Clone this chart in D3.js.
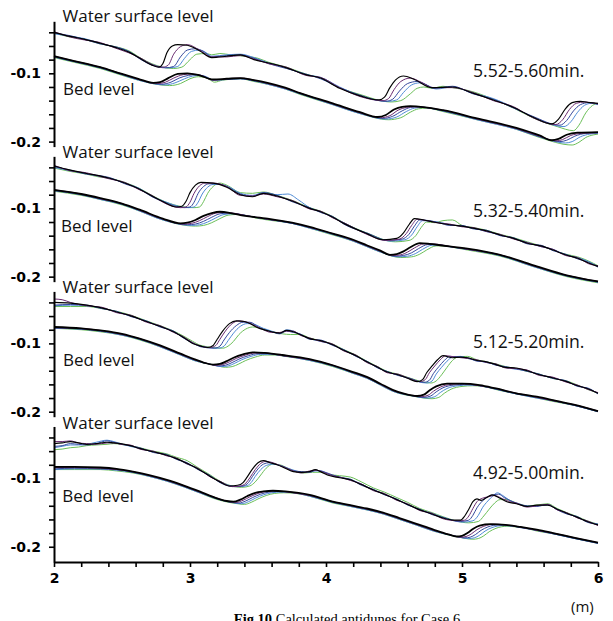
<!DOCTYPE html>
<html>
<head>
<meta charset="utf-8">
<script src="https://cdn.jsdelivr.net/npm/d3@7"></script>
<style>
  body { margin: 0; background: #fff; }
  svg { display: block; }
</style>
</head>
<body>
<svg id="chart" width="613" height="621"></svg>
<script>
// Series order in every group: black, purple, dark blue, light blue, green
const seriesColors = ["#000000", "#6a2b70", "#34479b", "#4f8bd6", "#6bbf58"];
const periodLabels = ["5.52-5.60min.", "5.32-5.40min.", "5.12-5.20min.", "4.92-5.00min."];
const xMajorTicks = [2, 3, 4, 5, 6];
const xMinorTicks = [2.2, 2.4, 2.6, 2.8, 3.2, 3.4, 3.6, 3.8, 4.2, 4.4, 4.6, 4.8, 5.2, 5.4, 5.6, 5.8];
const yTicks = [-0.04, -0.06, -0.08, -0.1, -0.12, -0.14, -0.16, -0.18, -0.2];
const yLabelled = ["-0.1", "-0.2"];

// ---- 5.52-5.60 min ----
const waterA = [
  [[2.00,-.040],[2.12,-.046],[2.22,-.050],[2.34,-.056],[2.45,-.062],[2.55,-.069],[2.64,-.079],[2.72,-.088],[2.77,-.091],[2.80,-.086],[2.83,-.070],[2.87,-.060],[2.91,-.058],[2.98,-.059],[3.07,-.067],[3.16,-.077],[3.27,-.075],[3.37,-.073],[3.47,-.080],[3.58,-.085],[3.71,-.092],[3.85,-.102],[3.96,-.107],[4.10,-.122],[4.25,-.133],[4.39,-.139],[4.43,-.135],[4.47,-.121],[4.51,-.110],[4.57,-.104],[4.65,-.109],[4.78,-.121],[4.93,-.120],[5.08,-.129],[5.23,-.139],[5.38,-.150],[5.52,-.164],[5.66,-.174],[5.71,-.167],[5.76,-.152],[5.81,-.143],[5.87,-.141],[5.94,-.143],[6.00,-.144]],
  [[2.00,-.039],[2.12,-.047],[2.22,-.051],[2.34,-.055],[2.45,-.063],[2.55,-.070],[2.64,-.078],[2.72,-.087],[2.80,-.091],[2.84,-.088],[2.88,-.072],[2.93,-.061],[2.98,-.058],[3.07,-.066],[3.16,-.076],[3.27,-.076],[3.37,-.074],[3.47,-.079],[3.58,-.086],[3.71,-.091],[3.85,-.103],[3.96,-.106],[4.10,-.121],[4.25,-.134],[4.42,-.140],[4.46,-.137],[4.50,-.124],[4.55,-.112],[4.62,-.107],[4.70,-.113],[4.79,-.121],[4.93,-.121],[5.08,-.128],[5.23,-.140],[5.38,-.149],[5.52,-.165],[5.69,-.175],[5.74,-.168],[5.79,-.153],[5.84,-.144],[5.90,-.142],[6.00,-.145]],
  [[2.00,-.041],[2.12,-.045],[2.22,-.050],[2.34,-.057],[2.45,-.061],[2.55,-.068],[2.64,-.080],[2.72,-.088],[2.82,-.092],[2.88,-.090],[2.93,-.076],[2.98,-.066],[3.04,-.064],[3.10,-.068],[3.16,-.076],[3.27,-.074],[3.37,-.073],[3.47,-.078],[3.58,-.086],[3.71,-.093],[3.85,-.101],[3.96,-.108],[4.10,-.121],[4.25,-.132],[4.44,-.141],[4.49,-.138],[4.54,-.126],[4.60,-.115],[4.67,-.112],[4.73,-.116],[4.79,-.122],[4.93,-.119],[5.08,-.130],[5.23,-.138],[5.38,-.151],[5.52,-.163],[5.72,-.176],[5.77,-.169],[5.82,-.155],[5.87,-.146],[5.93,-.143],[6.00,-.145]],
  [[2.00,-.042],[2.12,-.046],[2.22,-.049],[2.34,-.056],[2.45,-.062],[2.55,-.068],[2.64,-.079],[2.72,-.087],[2.85,-.092],[2.91,-.090],[2.96,-.078],[3.01,-.068],[3.07,-.066],[3.12,-.070],[3.16,-.075],[3.27,-.073],[3.37,-.072],[3.47,-.077],[3.58,-.085],[3.71,-.092],[3.85,-.102],[3.96,-.106],[4.10,-.120],[4.25,-.133],[4.46,-.141],[4.52,-.139],[4.57,-.128],[4.63,-.117],[4.69,-.114],[4.75,-.118],[4.81,-.123],[4.93,-.120],[5.08,-.129],[5.23,-.137],[5.38,-.150],[5.52,-.164],[5.75,-.178],[5.80,-.171],[5.85,-.157],[5.90,-.147],[5.95,-.144],[6.00,-.146]],
  [[2.00,-.041],[2.12,-.047],[2.22,-.050],[2.34,-.057],[2.45,-.061],[2.55,-.067],[2.64,-.078],[2.72,-.086],[2.88,-.093],[2.94,-.091],[3.00,-.080],[3.05,-.072],[3.12,-.071],[3.16,-.073],[3.22,-.071],[3.30,-.073],[3.40,-.075],[3.50,-.078],[3.58,-.084],[3.71,-.091],[3.85,-.101],[3.96,-.107],[4.10,-.121],[4.25,-.131],[4.48,-.142],[4.55,-.140],[4.62,-.130],[4.67,-.122],[4.72,-.120],[4.78,-.122],[4.86,-.119],[4.93,-.121],[5.08,-.127],[5.23,-.138],[5.38,-.151],[5.52,-.165],[5.70,-.178],[5.82,-.184],[5.86,-.176],[5.91,-.158],[5.96,-.147],[6.00,-.144]]
];
const bedA = [
  [[2.00,-.075],[2.15,-.082],[2.34,-.091],[2.50,-.101],[2.62,-.108],[2.73,-.114],[2.78,-.113],[2.84,-.107],[2.91,-.101],[2.98,-.100],[3.07,-.103],[3.17,-.109],[3.27,-.108],[3.37,-.107],[3.47,-.110],[3.57,-.114],[3.70,-.121],[3.81,-.129],[4.05,-.144],[4.25,-.157],[4.38,-.164],[4.44,-.161],[4.50,-.153],[4.56,-.149],[4.62,-.148],[4.86,-.154],[5.11,-.166],[5.40,-.180],[5.57,-.191],[5.66,-.198],[5.71,-.196],[5.77,-.190],[5.85,-.187],[6.00,-.186]],
  [[2.00,-.075],[2.15,-.082],[2.34,-.091],[2.50,-.101],[2.62,-.109],[2.76,-.115],[2.82,-.113],[2.88,-.107],[2.95,-.102],[3.01,-.101],[3.08,-.103],[3.17,-.110],[3.27,-.108],[3.37,-.107],[3.47,-.110],[3.57,-.115],[3.70,-.122],[3.81,-.129],[4.05,-.145],[4.25,-.158],[4.40,-.165],[4.47,-.162],[4.53,-.154],[4.59,-.150],[4.65,-.149],[4.86,-.154],[5.11,-.167],[5.40,-.181],[5.57,-.192],[5.69,-.199],[5.74,-.197],[5.80,-.191],[5.88,-.188],[6.00,-.187]],
  [[2.00,-.076],[2.15,-.083],[2.34,-.092],[2.50,-.102],[2.62,-.109],[2.79,-.116],[2.86,-.113],[2.92,-.107],[2.99,-.103],[3.05,-.102],[3.10,-.104],[3.17,-.110],[3.27,-.109],[3.37,-.108],[3.47,-.111],[3.57,-.115],[3.70,-.122],[3.81,-.130],[4.05,-.145],[4.25,-.158],[4.42,-.166],[4.49,-.163],[4.56,-.155],[4.62,-.150],[4.68,-.149],[4.86,-.155],[5.11,-.167],[5.40,-.181],[5.57,-.193],[5.72,-.200],[5.77,-.198],[5.83,-.192],[5.91,-.188],[6.00,-.187]],
  [[2.00,-.076],[2.15,-.083],[2.34,-.092],[2.50,-.102],[2.62,-.110],[2.82,-.117],[2.89,-.114],[2.96,-.108],[3.02,-.104],[3.08,-.103],[3.12,-.105],[3.17,-.110],[3.27,-.109],[3.37,-.108],[3.47,-.111],[3.57,-.116],[3.70,-.123],[3.81,-.130],[4.05,-.146],[4.25,-.159],[4.44,-.167],[4.52,-.164],[4.59,-.156],[4.65,-.151],[4.71,-.150],[4.86,-.155],[5.11,-.168],[5.40,-.182],[5.57,-.193],[5.76,-.202],[5.81,-.200],[5.87,-.193],[5.94,-.189],[6.00,-.188]],
  [[2.00,-.077],[2.15,-.084],[2.34,-.093],[2.50,-.103],[2.62,-.110],[2.85,-.118],[2.93,-.115],[3.00,-.108],[3.06,-.105],[3.11,-.106],[3.15,-.110],[3.18,-.113],[3.24,-.110],[3.37,-.108],[3.47,-.112],[3.57,-.116],[3.70,-.123],[3.81,-.131],[4.05,-.146],[4.25,-.159],[4.46,-.168],[4.55,-.165],[4.62,-.157],[4.68,-.152],[4.74,-.151],[4.86,-.156],[5.11,-.168],[5.40,-.182],[5.57,-.194],[5.81,-.205],[5.86,-.201],[5.91,-.194],[5.97,-.190],[6.00,-.189]]
];

// ---- 5.32-5.40 min ----
const waterB = [
  [[2.00,-.038],[2.12,-.044],[2.24,-.049],[2.33,-.052],[2.41,-.056],[2.52,-.063],[2.63,-.072],[2.72,-.082],[2.80,-.090],[2.90,-.098],[2.94,-.097],[2.97,-.090],[3.00,-.077],[3.04,-.066],[3.08,-.062],[3.17,-.063],[3.27,-.069],[3.37,-.080],[3.46,-.083],[3.54,-.078],[3.64,-.082],[3.76,-.090],[3.88,-.100],[3.96,-.105],[4.05,-.113],[4.13,-.122],[4.30,-.137],[4.42,-.146],[4.52,-.144],[4.57,-.136],[4.61,-.124],[4.65,-.115],[4.72,-.117],[4.79,-.120],[4.91,-.124],[5.00,-.126],[5.08,-.129],[5.18,-.133],[5.28,-.139],[5.38,-.144],[5.48,-.151],[5.58,-.155],[5.67,-.161],[5.76,-.168],[5.85,-.173],[5.93,-.180],[6.00,-.185]],
  [[2.00,-.037],[2.12,-.045],[2.24,-.048],[2.33,-.053],[2.41,-.057],[2.52,-.062],[2.63,-.073],[2.72,-.081],[2.80,-.091],[2.93,-.099],[2.97,-.098],[3.00,-.091],[3.03,-.078],[3.07,-.067],[3.11,-.063],[3.17,-.063],[3.27,-.068],[3.37,-.081],[3.46,-.082],[3.54,-.079],[3.64,-.083],[3.76,-.089],[3.88,-.101],[3.96,-.104],[4.05,-.114],[4.13,-.121],[4.30,-.138],[4.44,-.147],[4.54,-.145],[4.59,-.137],[4.63,-.125],[4.67,-.116],[4.74,-.118],[4.81,-.121],[4.91,-.123],[5.00,-.127],[5.08,-.128],[5.18,-.134],[5.28,-.138],[5.38,-.145],[5.48,-.150],[5.58,-.156],[5.67,-.160],[5.76,-.169],[5.85,-.172],[5.93,-.181],[6.00,-.184]],
  [[2.00,-.039],[2.12,-.044],[2.24,-.050],[2.33,-.052],[2.41,-.055],[2.52,-.064],[2.63,-.072],[2.72,-.083],[2.80,-.090],[2.96,-.099],[3.00,-.098],[3.03,-.091],[3.06,-.078],[3.10,-.068],[3.14,-.064],[3.20,-.064],[3.27,-.068],[3.37,-.079],[3.46,-.082],[3.54,-.077],[3.64,-.081],[3.76,-.091],[3.88,-.099],[3.96,-.106],[4.05,-.112],[4.13,-.123],[4.30,-.136],[4.46,-.147],[4.56,-.145],[4.61,-.138],[4.65,-.126],[4.69,-.117],[4.76,-.118],[4.83,-.121],[4.91,-.125],[5.00,-.125],[5.08,-.130],[5.18,-.132],[5.28,-.140],[5.38,-.143],[5.48,-.152],[5.58,-.154],[5.67,-.162],[5.76,-.167],[5.85,-.174],[5.93,-.179],[6.00,-.186]],
  [[2.00,-.040],[2.12,-.045],[2.24,-.049],[2.33,-.053],[2.41,-.056],[2.52,-.063],[2.63,-.071],[2.72,-.082],[2.80,-.089],[2.99,-.099],[3.03,-.098],[3.06,-.091],[3.09,-.079],[3.13,-.069],[3.17,-.065],[3.22,-.065],[3.30,-.070],[3.37,-.078],[3.46,-.081],[3.54,-.077],[3.64,-.080],[3.72,-.079],[3.80,-.088],[3.88,-.099],[3.96,-.105],[4.05,-.113],[4.13,-.121],[4.30,-.137],[4.48,-.148],[4.58,-.146],[4.63,-.139],[4.67,-.127],[4.71,-.118],[4.78,-.119],[4.85,-.121],[4.91,-.124],[5.00,-.126],[5.08,-.129],[5.18,-.134],[5.28,-.139],[5.38,-.144],[5.48,-.150],[5.58,-.156],[5.67,-.160],[5.76,-.168],[5.85,-.172],[5.93,-.178],[6.00,-.185]],
  [[2.00,-.041],[2.12,-.046],[2.24,-.050],[2.33,-.054],[2.41,-.056],[2.52,-.062],[2.63,-.071],[2.72,-.081],[2.80,-.089],[3.03,-.099],[3.07,-.098],[3.10,-.090],[3.13,-.078],[3.17,-.068],[3.22,-.063],[3.27,-.066],[3.37,-.077],[3.46,-.078],[3.54,-.076],[3.64,-.081],[3.76,-.089],[3.88,-.099],[3.96,-.104],[4.05,-.112],[4.13,-.121],[4.30,-.136],[4.51,-.149],[4.61,-.147],[4.66,-.140],[4.70,-.128],[4.74,-.120],[4.80,-.121],[4.86,-.118],[4.93,-.117],[5.00,-.125],[5.08,-.128],[5.18,-.132],[5.28,-.138],[5.38,-.143],[5.48,-.149],[5.58,-.155],[5.67,-.161],[5.76,-.167],[5.85,-.171],[5.93,-.177],[6.00,-.184]]
];
const bedB = [
  [[2.00,-.073],[2.20,-.079],[2.34,-.085],[2.50,-.093],[2.63,-.102],[2.80,-.115],[2.93,-.122],[2.98,-.121],[3.04,-.117],[3.10,-.111],[3.16,-.107],[3.22,-.105],[3.30,-.107],[3.37,-.110],[3.57,-.115],[3.75,-.121],[3.88,-.127],[4.05,-.137],[4.20,-.146],[4.30,-.154],[4.40,-.162],[4.47,-.168],[4.52,-.167],[4.57,-.163],[4.62,-.157],[4.69,-.151],[4.76,-.152],[4.84,-.154],[5.04,-.159],[5.28,-.168],[5.52,-.183],[5.77,-.198],[6.00,-.207]],
  [[2.00,-.073],[2.20,-.079],[2.34,-.086],[2.50,-.093],[2.63,-.103],[2.80,-.116],[2.95,-.123],[3.01,-.122],[3.07,-.118],[3.13,-.112],[3.19,-.107],[3.25,-.106],[3.32,-.107],[3.40,-.110],[3.57,-.116],[3.75,-.121],[3.88,-.128],[4.05,-.137],[4.20,-.147],[4.30,-.155],[4.40,-.163],[4.49,-.169],[4.55,-.168],[4.60,-.164],[4.65,-.158],[4.72,-.152],[4.79,-.152],[4.86,-.154],[5.04,-.160],[5.28,-.168],[5.52,-.184],[5.77,-.198],[6.00,-.207]],
  [[2.00,-.074],[2.20,-.080],[2.34,-.086],[2.50,-.094],[2.63,-.103],[2.80,-.116],[2.98,-.124],[3.04,-.123],[3.10,-.119],[3.16,-.113],[3.22,-.108],[3.28,-.107],[3.34,-.108],[3.42,-.111],[3.57,-.116],[3.75,-.122],[3.88,-.128],[4.05,-.138],[4.20,-.147],[4.30,-.155],[4.40,-.163],[4.51,-.170],[4.57,-.169],[4.63,-.165],[4.68,-.159],[4.75,-.153],[4.82,-.153],[4.88,-.155],[5.04,-.160],[5.28,-.169],[5.52,-.184],[5.77,-.199],[6.00,-.208]],
  [[2.00,-.074],[2.20,-.080],[2.34,-.087],[2.50,-.094],[2.63,-.104],[2.80,-.117],[3.01,-.125],[3.07,-.124],[3.13,-.120],[3.19,-.114],[3.25,-.109],[3.31,-.108],[3.37,-.109],[3.45,-.112],[3.57,-.116],[3.75,-.122],[3.88,-.129],[4.05,-.138],[4.20,-.148],[4.30,-.156],[4.40,-.164],[4.53,-.171],[4.60,-.170],[4.66,-.166],[4.71,-.160],[4.78,-.154],[4.85,-.154],[4.90,-.156],[5.04,-.160],[5.28,-.169],[5.52,-.185],[5.77,-.199],[6.00,-.208]],
  [[2.00,-.075],[2.20,-.081],[2.34,-.087],[2.50,-.095],[2.63,-.104],[2.80,-.117],[3.04,-.126],[3.10,-.125],[3.16,-.121],[3.22,-.115],[3.28,-.110],[3.34,-.109],[3.40,-.110],[3.48,-.114],[3.57,-.117],[3.75,-.122],[3.88,-.129],[4.05,-.139],[4.20,-.148],[4.30,-.156],[4.40,-.164],[4.55,-.172],[4.63,-.171],[4.69,-.167],[4.74,-.161],[4.81,-.155],[4.88,-.155],[4.93,-.157],[5.04,-.161],[5.28,-.170],[5.52,-.185],[5.77,-.200],[6.00,-.209]]
];

// ---- 5.12-5.20 min ----
const waterC = [
  [[2.00,-.040],[2.12,-.041],[2.24,-.044],[2.35,-.048],[2.46,-.054],[2.57,-.060],[2.68,-.068],[2.78,-.075],[2.88,-.083],[2.95,-.091],[3.02,-.100],[3.08,-.104],[3.13,-.106],[3.17,-.103],[3.20,-.094],[3.24,-.082],[3.29,-.071],[3.34,-.067],[3.40,-.068],[3.51,-.078],[3.60,-.083],[3.66,-.085],[3.71,-.081],[3.76,-.083],[3.81,-.087],[3.88,-.093],[3.96,-.096],[4.05,-.102],[4.13,-.110],[4.22,-.118],[4.30,-.127],[4.38,-.135],[4.45,-.142],[4.53,-.146],[4.60,-.151],[4.67,-.156],[4.71,-.153],[4.74,-.143],[4.78,-.133],[4.82,-.124],[4.86,-.118],[4.93,-.121],[4.99,-.120],[5.04,-.121],[5.11,-.125],[5.18,-.127],[5.25,-.131],[5.32,-.135],[5.40,-.136],[5.48,-.140],[5.57,-.146],[5.66,-.150],[5.77,-.156],[5.85,-.162],[5.92,-.166],[6.00,-.173]],
  [[2.00,-.035],[2.06,-.036],[2.12,-.040],[2.24,-.045],[2.35,-.047],[2.46,-.055],[2.57,-.059],[2.68,-.069],[2.78,-.074],[2.88,-.084],[2.95,-.090],[3.02,-.099],[3.10,-.105],[3.15,-.106],[3.19,-.103],[3.22,-.094],[3.26,-.082],[3.31,-.071],[3.36,-.067],[3.42,-.069],[3.51,-.077],[3.60,-.084],[3.66,-.084],[3.71,-.082],[3.76,-.082],[3.81,-.088],[3.88,-.092],[3.96,-.097],[4.05,-.101],[4.13,-.111],[4.22,-.117],[4.30,-.128],[4.38,-.134],[4.45,-.143],[4.53,-.145],[4.62,-.152],[4.69,-.156],[4.73,-.153],[4.76,-.143],[4.80,-.133],[4.84,-.124],[4.88,-.118],[4.95,-.120],[5.04,-.122],[5.11,-.124],[5.18,-.128],[5.25,-.130],[5.32,-.136],[5.40,-.137],[5.48,-.139],[5.57,-.147],[5.66,-.149],[5.77,-.157],[5.85,-.161],[5.92,-.167],[6.00,-.172]],
  [[2.00,-.044],[2.12,-.043],[2.24,-.044],[2.35,-.049],[2.46,-.053],[2.57,-.061],[2.68,-.067],[2.78,-.076],[2.88,-.082],[2.95,-.092],[3.02,-.099],[3.08,-.105],[3.18,-.107],[3.22,-.104],[3.25,-.095],[3.29,-.084],[3.34,-.074],[3.39,-.069],[3.44,-.069],[3.51,-.077],[3.60,-.083],[3.66,-.086],[3.71,-.082],[3.76,-.084],[3.81,-.086],[3.88,-.094],[3.96,-.095],[4.05,-.103],[4.13,-.109],[4.22,-.119],[4.30,-.126],[4.38,-.136],[4.45,-.141],[4.53,-.147],[4.60,-.150],[4.72,-.157],[4.76,-.154],[4.79,-.144],[4.83,-.134],[4.87,-.125],[4.91,-.119],[4.97,-.120],[5.04,-.121],[5.11,-.126],[5.18,-.127],[5.25,-.132],[5.32,-.134],[5.40,-.137],[5.48,-.141],[5.57,-.145],[5.66,-.151],[5.77,-.155],[5.85,-.163],[5.92,-.165],[6.00,-.174]],
  [[2.00,-.045],[2.12,-.044],[2.24,-.045],[2.35,-.048],[2.46,-.054],[2.57,-.060],[2.68,-.068],[2.78,-.075],[2.88,-.083],[2.95,-.091],[3.02,-.100],[3.08,-.104],[3.21,-.107],[3.25,-.104],[3.28,-.096],[3.32,-.085],[3.37,-.075],[3.42,-.071],[3.47,-.072],[3.54,-.078],[3.60,-.082],[3.66,-.085],[3.71,-.080],[3.76,-.082],[3.81,-.087],[3.88,-.093],[3.96,-.097],[4.05,-.102],[4.13,-.110],[4.22,-.118],[4.30,-.127],[4.38,-.135],[4.45,-.142],[4.53,-.146],[4.60,-.151],[4.74,-.158],[4.78,-.155],[4.81,-.145],[4.85,-.135],[4.89,-.126],[4.93,-.120],[4.99,-.119],[5.04,-.122],[5.11,-.125],[5.18,-.128],[5.25,-.131],[5.32,-.135],[5.40,-.138],[5.48,-.140],[5.57,-.146],[5.66,-.150],[5.77,-.156],[5.85,-.162],[5.92,-.166],[6.00,-.173]],
  [[2.00,-.046],[2.12,-.046],[2.24,-.046],[2.35,-.049],[2.46,-.053],[2.57,-.059],[2.68,-.067],[2.78,-.074],[2.88,-.082],[2.95,-.089],[3.02,-.097],[3.08,-.103],[3.24,-.107],[3.28,-.104],[3.32,-.097],[3.36,-.087],[3.41,-.079],[3.46,-.076],[3.51,-.077],[3.57,-.081],[3.62,-.084],[3.68,-.086],[3.74,-.087],[3.81,-.087],[3.88,-.092],[3.96,-.096],[4.05,-.101],[4.13,-.109],[4.22,-.117],[4.30,-.126],[4.38,-.134],[4.45,-.141],[4.53,-.145],[4.62,-.151],[4.77,-.158],[4.81,-.155],[4.85,-.146],[4.89,-.135],[4.93,-.125],[4.97,-.120],[5.04,-.119],[5.11,-.124],[5.18,-.127],[5.25,-.130],[5.32,-.134],[5.40,-.137],[5.48,-.141],[5.57,-.145],[5.66,-.151],[5.77,-.155],[5.85,-.161],[5.92,-.167],[6.00,-.173]]
];
const bedC = [
  [[2.00,-.076],[2.20,-.078],[2.34,-.081],[2.50,-.086],[2.63,-.093],[2.78,-.103],[2.93,-.115],[3.03,-.123],[3.10,-.128],[3.17,-.131],[3.22,-.130],[3.27,-.126],[3.32,-.121],[3.39,-.116],[3.46,-.113],[3.55,-.114],[3.68,-.117],[3.88,-.123],[4.05,-.132],[4.20,-.142],[4.30,-.149],[4.40,-.159],[4.49,-.168],[4.58,-.174],[4.67,-.177],[4.72,-.175],[4.76,-.169],[4.81,-.163],[4.89,-.159],[5.00,-.159],[5.13,-.161],[5.25,-.166],[5.40,-.173],[5.55,-.178],[5.67,-.183],[5.83,-.190],[6.00,-.199]],
  [[2.00,-.077],[2.20,-.078],[2.34,-.081],[2.50,-.087],[2.63,-.093],[2.78,-.104],[2.93,-.116],[3.03,-.124],[3.12,-.129],[3.19,-.132],[3.24,-.131],[3.29,-.127],[3.34,-.122],[3.41,-.117],[3.48,-.114],[3.55,-.114],[3.68,-.118],[3.88,-.124],[4.05,-.132],[4.20,-.143],[4.30,-.150],[4.40,-.160],[4.49,-.169],[4.60,-.175],[4.70,-.178],[4.75,-.176],[4.79,-.170],[4.84,-.164],[4.92,-.160],[5.00,-.159],[5.13,-.162],[5.25,-.166],[5.40,-.173],[5.55,-.179],[5.67,-.184],[5.83,-.190],[6.00,-.199]],
  [[2.00,-.077],[2.20,-.079],[2.34,-.082],[2.50,-.087],[2.63,-.094],[2.78,-.104],[2.93,-.116],[3.03,-.124],[3.14,-.130],[3.21,-.133],[3.26,-.132],[3.31,-.128],[3.36,-.123],[3.43,-.118],[3.50,-.115],[3.57,-.115],[3.68,-.118],[3.88,-.124],[4.05,-.133],[4.20,-.143],[4.30,-.150],[4.40,-.160],[4.49,-.169],[4.62,-.176],[4.72,-.179],[4.77,-.177],[4.81,-.171],[4.86,-.165],[4.94,-.161],[5.02,-.160],[5.13,-.162],[5.25,-.167],[5.40,-.174],[5.55,-.179],[5.67,-.184],[5.83,-.191],[6.00,-.200]],
  [[2.00,-.078],[2.20,-.079],[2.34,-.082],[2.50,-.088],[2.63,-.094],[2.78,-.105],[2.93,-.117],[3.03,-.125],[3.16,-.131],[3.23,-.134],[3.28,-.133],[3.33,-.129],[3.38,-.124],[3.45,-.119],[3.52,-.116],[3.59,-.116],[3.68,-.118],[3.88,-.125],[4.05,-.133],[4.20,-.144],[4.30,-.151],[4.40,-.161],[4.49,-.170],[4.64,-.177],[4.75,-.180],[4.80,-.178],[4.84,-.172],[4.89,-.166],[4.97,-.162],[5.05,-.161],[5.13,-.162],[5.25,-.167],[5.40,-.174],[5.55,-.180],[5.67,-.184],[5.83,-.191],[6.00,-.200]],
  [[2.00,-.078],[2.20,-.080],[2.34,-.083],[2.50,-.088],[2.63,-.095],[2.78,-.105],[2.93,-.117],[3.03,-.125],[3.19,-.132],[3.26,-.135],[3.31,-.134],[3.36,-.130],[3.41,-.125],[3.48,-.120],[3.55,-.117],[3.62,-.117],[3.70,-.119],[3.88,-.125],[4.05,-.134],[4.20,-.144],[4.30,-.151],[4.40,-.161],[4.49,-.170],[4.66,-.178],[4.78,-.181],[4.83,-.179],[4.87,-.173],[4.92,-.167],[5.00,-.163],[5.08,-.162],[5.15,-.163],[5.28,-.169],[5.40,-.174],[5.55,-.180],[5.67,-.185],[5.83,-.191],[6.00,-.200]]
];

// ---- 4.92-5.00 min ----
const waterD = [
  [[2.00,-.049],[2.06,-.048],[2.12,-.046],[2.18,-.048],[2.24,-.050],[2.31,-.049],[2.39,-.047],[2.44,-.048],[2.49,-.049],[2.56,-.052],[2.63,-.056],[2.73,-.061],[2.83,-.066],[2.90,-.071],[2.98,-.078],[3.05,-.085],[3.15,-.097],[3.22,-.105],[3.29,-.111],[3.35,-.110],[3.39,-.106],[3.42,-.098],[3.46,-.086],[3.50,-.077],[3.54,-.074],[3.59,-.077],[3.64,-.080],[3.70,-.085],[3.76,-.090],[3.82,-.091],[3.88,-.090],[3.92,-.087],[3.96,-.090],[4.01,-.095],[4.10,-.099],[4.18,-.102],[4.26,-.109],[4.35,-.117],[4.43,-.123],[4.52,-.131],[4.60,-.138],[4.69,-.146],[4.78,-.152],[4.86,-.158],[4.94,-.161],[4.99,-.161],[5.02,-.155],[5.05,-.145],[5.08,-.134],[5.11,-.130],[5.14,-.132],[5.18,-.128],[5.22,-.124],[5.28,-.129],[5.33,-.134],[5.40,-.137],[5.48,-.141],[5.55,-.139],[5.63,-.139],[5.70,-.145],[5.77,-.151],[5.85,-.157],[5.92,-.163],[6.00,-.168]],
  [[2.00,-.046],[2.06,-.046],[2.12,-.045],[2.18,-.048],[2.24,-.049],[2.31,-.050],[2.39,-.048],[2.44,-.048],[2.49,-.050],[2.56,-.051],[2.63,-.057],[2.73,-.060],[2.83,-.067],[2.90,-.070],[2.98,-.079],[3.05,-.084],[3.15,-.098],[3.22,-.104],[3.31,-.112],[3.37,-.111],[3.41,-.107],[3.44,-.099],[3.48,-.087],[3.52,-.078],[3.56,-.075],[3.61,-.077],[3.66,-.081],[3.70,-.084],[3.76,-.089],[3.82,-.092],[3.88,-.089],[3.93,-.088],[3.98,-.091],[4.05,-.096],[4.10,-.098],[4.18,-.103],[4.26,-.108],[4.35,-.118],[4.43,-.122],[4.52,-.132],[4.60,-.137],[4.69,-.147],[4.78,-.151],[4.86,-.159],[4.97,-.162],[5.02,-.161],[5.05,-.155],[5.08,-.144],[5.11,-.134],[5.15,-.129],[5.19,-.127],[5.24,-.125],[5.30,-.130],[5.35,-.134],[5.40,-.136],[5.48,-.142],[5.55,-.140],[5.63,-.138],[5.70,-.146],[5.77,-.150],[5.85,-.158],[5.92,-.162],[6.00,-.169]],
  [[2.00,-.053],[2.06,-.052],[2.12,-.049],[2.18,-.050],[2.24,-.051],[2.31,-.049],[2.39,-.045],[2.44,-.047],[2.49,-.050],[2.56,-.052],[2.63,-.055],[2.73,-.062],[2.83,-.065],[2.90,-.072],[2.98,-.077],[3.05,-.086],[3.15,-.096],[3.22,-.106],[3.33,-.112],[3.39,-.111],[3.43,-.106],[3.46,-.097],[3.50,-.086],[3.54,-.079],[3.58,-.077],[3.63,-.079],[3.68,-.082],[3.76,-.089],[3.82,-.090],[3.88,-.091],[3.93,-.088],[3.98,-.090],[4.05,-.095],[4.12,-.099],[4.18,-.101],[4.26,-.110],[4.35,-.116],[4.43,-.124],[4.52,-.130],[4.60,-.139],[4.69,-.145],[4.78,-.153],[4.86,-.157],[4.99,-.163],[5.05,-.161],[5.08,-.154],[5.11,-.143],[5.15,-.133],[5.19,-.127],[5.23,-.124],[5.27,-.123],[5.31,-.128],[5.36,-.133],[5.42,-.138],[5.48,-.140],[5.55,-.141],[5.63,-.138],[5.70,-.146],[5.77,-.152],[5.85,-.156],[5.92,-.164],[6.00,-.167]],
  [[2.00,-.055],[2.06,-.053],[2.12,-.051],[2.18,-.051],[2.24,-.050],[2.31,-.047],[2.39,-.044],[2.44,-.046],[2.49,-.049],[2.56,-.053],[2.63,-.056],[2.73,-.061],[2.83,-.066],[2.90,-.071],[2.98,-.079],[3.05,-.085],[3.15,-.097],[3.22,-.105],[3.35,-.112],[3.41,-.111],[3.45,-.106],[3.48,-.097],[3.52,-.087],[3.56,-.081],[3.61,-.079],[3.66,-.081],[3.72,-.085],[3.78,-.089],[3.84,-.091],[3.90,-.089],[3.96,-.089],[4.02,-.094],[4.10,-.098],[4.18,-.102],[4.26,-.108],[4.35,-.117],[4.43,-.123],[4.52,-.131],[4.60,-.138],[4.69,-.146],[4.78,-.151],[4.86,-.157],[5.01,-.164],[5.08,-.162],[5.12,-.154],[5.15,-.143],[5.19,-.133],[5.23,-.125],[5.26,-.121],[5.30,-.125],[5.35,-.132],[5.42,-.137],[5.48,-.141],[5.55,-.140],[5.63,-.139],[5.70,-.145],[5.77,-.151],[5.85,-.157],[5.92,-.163],[6.00,-.167]],
  [[2.00,-.058],[2.06,-.057],[2.12,-.055],[2.18,-.054],[2.24,-.052],[2.31,-.051],[2.39,-.050],[2.44,-.049],[2.49,-.050],[2.56,-.052],[2.63,-.055],[2.73,-.060],[2.83,-.064],[2.90,-.069],[2.98,-.074],[3.05,-.083],[3.15,-.095],[3.22,-.104],[3.38,-.113],[3.44,-.111],[3.48,-.105],[3.52,-.095],[3.56,-.085],[3.61,-.079],[3.66,-.080],[3.72,-.085],[3.78,-.090],[3.84,-.092],[3.90,-.091],[3.96,-.091],[4.02,-.094],[4.10,-.096],[4.18,-.098],[4.26,-.105],[4.35,-.114],[4.43,-.120],[4.52,-.128],[4.60,-.135],[4.69,-.144],[4.78,-.150],[4.86,-.156],[5.05,-.165],[5.12,-.163],[5.16,-.155],[5.20,-.145],[5.24,-.136],[5.28,-.131],[5.33,-.131],[5.40,-.136],[5.48,-.140],[5.55,-.139],[5.63,-.137],[5.70,-.144],[5.77,-.150],[5.85,-.156],[5.92,-.162],[6.00,-.167]]
];
const bedD = [
  [[2.00,-.083],[2.15,-.083],[2.34,-.084],[2.46,-.086],[2.58,-.090],[2.70,-.095],[2.83,-.102],[2.95,-.110],[3.07,-.119],[3.17,-.127],[3.27,-.133],[3.32,-.134],[3.37,-.131],[3.42,-.126],[3.48,-.121],[3.54,-.119],[3.61,-.118],[3.70,-.119],[3.88,-.124],[4.05,-.134],[4.18,-.139],[4.30,-.144],[4.42,-.150],[4.54,-.158],[4.66,-.166],[4.79,-.175],[4.90,-.182],[4.96,-.185],[5.00,-.184],[5.04,-.180],[5.08,-.174],[5.13,-.169],[5.21,-.167],[5.32,-.168],[5.43,-.171],[5.55,-.175],[5.67,-.180],[5.83,-.187],[6.00,-.194]],
  [[2.00,-.084],[2.15,-.084],[2.34,-.085],[2.46,-.087],[2.58,-.090],[2.70,-.096],[2.83,-.103],[2.95,-.111],[3.07,-.120],[3.17,-.127],[3.29,-.134],[3.34,-.135],[3.39,-.132],[3.44,-.127],[3.50,-.122],[3.56,-.119],[3.63,-.118],[3.72,-.120],[3.88,-.125],[4.05,-.134],[4.18,-.140],[4.30,-.145],[4.42,-.151],[4.54,-.159],[4.66,-.167],[4.79,-.176],[4.92,-.183],[4.99,-.186],[5.03,-.185],[5.07,-.181],[5.11,-.175],[5.16,-.170],[5.24,-.167],[5.32,-.168],[5.43,-.171],[5.55,-.176],[5.67,-.180],[5.83,-.187],[6.00,-.194]],
  [[2.00,-.086],[2.15,-.085],[2.34,-.086],[2.46,-.087],[2.58,-.091],[2.70,-.096],[2.83,-.103],[2.95,-.111],[3.07,-.120],[3.17,-.128],[3.31,-.135],[3.36,-.136],[3.41,-.133],[3.46,-.128],[3.52,-.123],[3.58,-.120],[3.65,-.119],[3.74,-.120],[3.88,-.125],[4.05,-.135],[4.18,-.140],[4.30,-.145],[4.42,-.151],[4.54,-.159],[4.66,-.167],[4.79,-.176],[4.94,-.184],[5.02,-.187],[5.06,-.186],[5.10,-.182],[5.14,-.176],[5.19,-.171],[5.27,-.168],[5.35,-.169],[5.43,-.172],[5.55,-.176],[5.67,-.181],[5.83,-.188],[6.00,-.195]],
  [[2.00,-.087],[2.15,-.086],[2.34,-.086],[2.46,-.088],[2.58,-.091],[2.70,-.097],[2.83,-.104],[2.95,-.112],[3.07,-.121],[3.17,-.128],[3.33,-.136],[3.38,-.137],[3.43,-.134],[3.48,-.129],[3.54,-.124],[3.60,-.121],[3.67,-.120],[3.76,-.121],[3.88,-.126],[4.05,-.135],[4.18,-.141],[4.30,-.146],[4.42,-.152],[4.54,-.160],[4.66,-.168],[4.79,-.177],[4.96,-.185],[5.05,-.188],[5.09,-.187],[5.13,-.183],[5.17,-.177],[5.22,-.172],[5.30,-.169],[5.38,-.170],[5.45,-.172],[5.55,-.176],[5.67,-.181],[5.83,-.188],[6.00,-.195]],
  [[2.00,-.087],[2.15,-.087],[2.34,-.087],[2.46,-.089],[2.58,-.092],[2.70,-.097],[2.83,-.104],[2.95,-.112],[3.07,-.121],[3.17,-.129],[3.35,-.137],[3.40,-.138],[3.45,-.135],[3.50,-.130],[3.56,-.125],[3.62,-.122],[3.69,-.121],[3.78,-.122],[3.88,-.126],[4.05,-.136],[4.18,-.141],[4.30,-.146],[4.42,-.152],[4.54,-.160],[4.66,-.168],[4.79,-.177],[4.98,-.186],[5.08,-.189],[5.12,-.188],[5.16,-.184],[5.20,-.178],[5.25,-.173],[5.33,-.170],[5.40,-.171],[5.47,-.173],[5.55,-.177],[5.67,-.181],[5.83,-.188],[6.00,-.195]]
];

const waterGroups = [waterA, waterB, waterC, waterD];
const bedGroups = [bedA, bedB, bedC, bedD];

// ---- layout ----
const svg = d3.select("#chart");
const xAxisY = 562;
const x = d3.scaleLinear().domain([2, 6]).range([54, 598]);
const panelTop = [73.3, 208.35, 343.4, 478.45];   // pixel row of the -0.1 level in each panel
const tenthPx = 68.3;                                // pixels per 0.1 m
const axisFont = "'DejaVu Sans', sans-serif";
const labelFont = "'Open Sans', sans-serif";

const waterLabelY = [21.7, 158.3, 293.3, 429.3];
const bedLabelY = [94.5, 231.7, 366, 501.7];
const bedLabelX = [63, 61, 63, 62.3];
const periodLabelY = [77.3, 216.5, 347.7, 479.3];

panelTop.forEach((y01, k) => {
  const y = d3.scaleLinear().domain([-0.1, -0.2]).range([y01, y01 + tenthPx]);
  const top = y.invert(y01 - 52);
  const bottom = k === 3 ? y.invert(xAxisY) : y.invert(y(-0.2) + 5);
  const yAxisScale = d3.scaleLinear().domain([top, bottom]).range([y(top), y(bottom)]);

  const line = d3.line()
    .x(d => x(d[0]))
    .y(d => y(d[1]))
    .curve(d3.curveMonotoneX);

  const g = svg.append("g");
  // colored runs first, black on top
  for (let s = seriesColors.length - 1; s >= 0; s--) {
    g.append("path")
      .datum(waterGroups[k][s])
      .attr("d", line)
      .attr("fill", "none")
      .attr("stroke", seriesColors[s])
      .attr("stroke-width", s === 0 ? 1.15 : 1)
      .attr("stroke-linejoin", "round");
    g.append("path")
      .datum(bedGroups[k][s])
      .attr("d", line)
      .attr("fill", "none")
      .attr("stroke", seriesColors[s])
      .attr("stroke-width", s === 0 ? 1.8 : 1)
      .attr("stroke-linejoin", "round");
  }

  // y axis segment for this panel
  const yAxis = d3.axisLeft(yAxisScale)
    .tickValues(yTicks)
    .tickSize(5)
    .tickSizeOuter(0)
    .tickPadding(8)
    .tickFormat(d => Math.abs(d + 0.1) < 1e-9 ? yLabelled[0] : (Math.abs(d + 0.2) < 1e-9 ? yLabelled[1] : ""));
  const ya = svg.append("g").attr("transform", "translate(54,0)").call(yAxis);
  ya.select(".domain").attr("stroke-width", 2);
  ya.selectAll(".tick line").attr("stroke-width", 1.6);
  ya.selectAll("text")
    .attr("font-family", axisFont).attr("font-weight", "bold")
    .attr("font-size", 14).attr("fill", "#000");

  // annotations
  svg.append("text").attr("x", 62.5).attr("y", waterLabelY[k])
    .attr("font-family", labelFont).attr("font-size", 17).attr("fill", "#111")
    .text("Water surface level");
  svg.append("text").attr("x", bedLabelX[k]).attr("y", bedLabelY[k])
    .attr("font-family", labelFont).attr("font-size", 17).attr("fill", "#111")
    .text("Bed level");
  svg.append("text").attr("x", 473).attr("y", periodLabelY[k])
    .attr("font-family", labelFont).attr("font-size", 17.6).attr("fill", "#111")
    .text(periodLabels[k]);
});

// x axis
const xa = svg.append("g").attr("transform", `translate(0,${xAxisY})`)
  .call(d3.axisBottom(x).tickValues(xMajorTicks).tickSize(5).tickSizeOuter(0).tickPadding(6).tickFormat(d3.format("d")));
xa.select(".domain").attr("stroke-width", 2);
xa.selectAll(".tick line").attr("stroke-width", 1.6);
xa.selectAll("text")
  .attr("font-family", axisFont).attr("font-weight", "bold")
  .attr("font-size", 14).attr("fill", "#000");
const xm = svg.append("g").attr("transform", `translate(0,${xAxisY})`)
  .call(d3.axisBottom(x).tickValues(xMinorTicks).tickSize(5).tickFormat(""));
xm.select(".domain").remove();
xm.selectAll(".tick line").attr("stroke-width", 1.6);

svg.append("text").attr("x", 571).attr("y", 612)
  .attr("font-family", labelFont).attr("font-size", 15).attr("fill", "#111")
  .text("(m)");

// caption along the lower edge
const cap = svg.append("text").attr("x", 347).attr("y", 624)
  .attr("text-anchor", "middle")
  .attr("font-family", "'Liberation Serif', 'Times New Roman', serif")
  .attr("font-size", 14.5).attr("fill", "#000");
cap.append("tspan").attr("font-weight", "bold").text("Fig.10");
cap.append("tspan").text(" Calculated antidunes for Case 6");
</script>
</body>
</html>
